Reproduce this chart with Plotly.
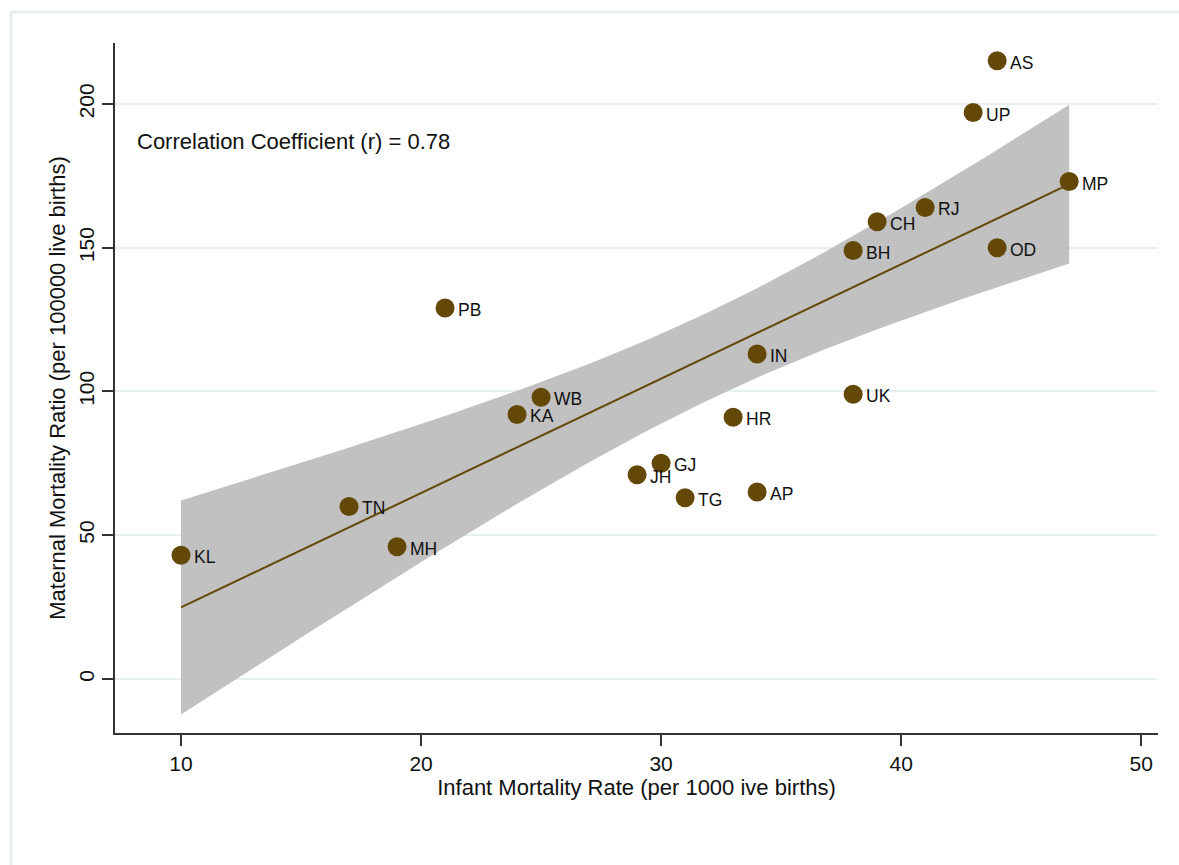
import numpy as np
import plotly.graph_objects as go

states = ["KL", "TN", "MH", "PB", "KA", "WB", "JH", "GJ", "TG", "HR",
          "AP", "IN", "UK", "BH", "CH", "RJ", "AS", "UP", "OD", "MP"]
imr = [10, 17, 19, 21, 24, 25, 29, 30, 31, 33,
       34, 34, 38, 38, 39, 41, 44, 43, 44, 47]
mmr = [43, 60, 46, 129, 92, 98, 71, 75, 63, 91,
       65, 113, 99, 149, 159, 164, 215, 197, 150, 173]
corr_label = "Correlation Coefficient (r) = 0.78"

x_ticks = [10, 20, 30, 40, 50]
y_ticks = [0, 50, 100, 150, 200]

MARK = "#634808"
FONT = "Liberation Sans, Arial, Helvetica, sans-serif"

# Linear fit with 95% CI of the mean prediction (as in Stata lfitci)
x = np.array(imr, float)
y = np.array(mmr, float)
n = len(x)
b1, b0 = np.polyfit(x, y, 1)
resid = y - (b0 + b1 * x)
s = np.sqrt(np.sum(resid ** 2) / (n - 2))
xg = np.linspace(x.min(), x.max(), 100)
yg = b0 + b1 * xg
se = s * np.sqrt(1 / n + (xg - x.mean()) ** 2 / np.sum((x - x.mean()) ** 2))
tcrit = 2.1009
lo = yg - tcrit * se
hi = yg + tcrit * se

fig = go.Figure()
fig.add_trace(go.Scatter(
    x=np.concatenate([xg, xg[::-1]]), y=np.concatenate([hi, lo[::-1]]),
    fill="toself", fillcolor="#c1c1c1", line=dict(width=0),
    mode="lines", hoverinfo="skip", showlegend=False))
fig.add_trace(go.Scatter(
    x=xg, y=yg, mode="lines", line=dict(color=MARK, width=2),
    showlegend=False))
fig.add_trace(go.Scatter(
    x=imr, y=mmr, mode="markers",
    marker=dict(color=MARK, size=19, line=dict(width=0)),
    showlegend=False))
for st, xi, yi in zip(states, imr, mmr):
    fig.add_annotation(
        x=xi, y=yi, text=st, showarrow=False, xanchor="left", yanchor="middle",
        xshift=11, yshift=-2,
        font=dict(family=FONT, size=17.5, color="#111"))

fig.add_annotation(
    x=0.019, y=0.857, xref="paper", yref="paper", xanchor="left", yanchor="middle",
    text=corr_label, showarrow=False,
    font=dict(family=FONT, size=22, color="#111"))

# outer frame (light)
fig.add_shape(type="line", xref="paper", yref="paper",
              x0=-0.0997, x1=1.03, y0=1.045, y1=1.045,
              line=dict(color="#e6eef0", width=3))
fig.add_shape(type="line", xref="paper", yref="paper",
              x0=-0.0997, x1=-0.0997, y0=1.045, y1=-0.2,
              line=dict(color="#e6eef0", width=3))

axis_common = dict(
    showline=True, linecolor="#333333", linewidth=1.6,
    ticks="outside", ticklen=11, tickwidth=1.5, tickcolor="#333333",
    tickfont=dict(family=FONT, size=21, color="#111"),
    zeroline=False, mirror=False,
)
fig.update_xaxes(
    range=[7.25, 50.7], tickvals=x_ticks, showgrid=False,
    title=dict(text="Infant Mortality Rate (per 1000 ive births)",
               font=dict(family=FONT, size=22, color="#111"), standoff=4),
    **axis_common)
fig.update_yaxes(
    range=[-18.8, 221.2], tickvals=y_ticks, showgrid=True,
    gridcolor="#e6eff1", gridwidth=1.5, tickangle=-90,
    title=dict(text="Maternal Mortality Ratio (per 100000 live births)",
               font=dict(family=FONT, size=22, color="#111"), standoff=3),
    **axis_common)

fig.update_layout(
    width=1179, height=865,
    margin=dict(l=115, r=21, t=43, b=132),
    plot_bgcolor="white", paper_bgcolor="white",
    font=dict(family=FONT),
)

fig.write_html("out.html", config={"displayModeBar": False},
               post_script="document.body.style.margin='0';")
